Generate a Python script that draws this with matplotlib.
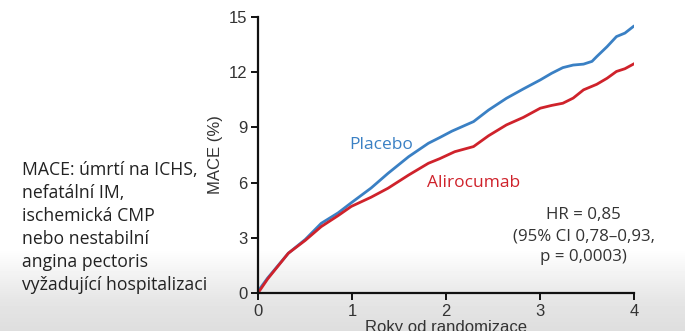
import numpy as np
import matplotlib
matplotlib.use('Agg')
from matplotlib import pyplot as plt

# data (years, MACE %)
placebo_x = [0, 0.1, 0.32, 0.5, 0.67, 0.85, 0.99, 1.2, 1.38, 1.6, 1.81, 1.93, 2.06, 2.29, 2.45,
             2.64, 2.82, 3.0, 3.12, 3.24, 3.35, 3.46, 3.55, 3.6, 3.71, 3.81, 3.9, 3.99]
placebo_y = [0.1, 0.8, 2.15, 2.9, 3.78, 4.35, 4.9, 5.7, 6.5, 7.41, 8.14, 8.45, 8.8, 9.32, 9.95,
             10.59, 11.1, 11.59, 11.95, 12.26, 12.4, 12.45, 12.6, 12.86, 13.4, 13.95, 14.14, 14.5]
aliro_x = [0, 0.1, 0.32, 0.5, 0.67, 0.85, 0.99, 1.2, 1.38, 1.6, 1.81, 1.93, 2.09, 2.29, 2.45,
           2.64, 2.82, 3.0, 3.12, 3.24, 3.35, 3.46, 3.6, 3.71, 3.81, 3.9, 3.99]
aliro_y = [0.0, 0.75, 2.15, 2.85, 3.6, 4.2, 4.7, 5.2, 5.69, 6.41, 7.05, 7.3, 7.68, 7.96, 8.55,
           9.14, 9.55, 10.05, 10.2, 10.32, 10.6, 11.05, 11.35, 11.68, 12.05, 12.2, 12.45]
x_ticks = [0, 1, 2, 3, 4]
y_ticks = [0, 3, 6, 9, 12, 15]

note = ('MACE: úmrtí na ICHS,\nnefatální IM,\nischemická CMP\nnebo nestabilní\n'
        'angina pectoris\nvyžadující hospitalizaci')
hr_text = 'HR = 0,85\n(95% CI 0,78\u20130,93,\np = 0,0003)'

blue = '#3a80c4'
red = '#cf222b'
grey = '#333333'

fig = plt.figure(figsize=(6.85, 3.31), dpi=100)

# light grey fade at the bottom of the slide
bg = fig.add_axes([0, 0, 1, 1], zorder=-10)
rows = np.interp(np.arange(331), [0, 248, 300, 331], [1.0, 1.0, 0.9, 0.87])
bg.imshow(np.repeat(rows[:, None], 10, axis=1), cmap='gray', vmin=0, vmax=1,
          aspect='auto', extent=[0, 1, 0, 1])
bg.set_axis_off()

ax = fig.add_axes([0.377, 0.1157, 0.549, 0.832])
ax.patch.set_alpha(0)
ax.plot(placebo_x, placebo_y, color=blue, lw=2.0, solid_joinstyle='round')
ax.plot(aliro_x, aliro_y, color=red, lw=2.0, solid_joinstyle='round')

ax.set_xlim(0, 4)
ax.set_ylim(0, 15)
ax.set_xticks(x_ticks)
ax.set_yticks(y_ticks)
for s in ['top', 'right']:
    ax.spines[s].set_visible(False)
for s in ['left', 'bottom']:
    ax.spines[s].set_linewidth(1.6)
    ax.spines[s].set_color('#111111')
ax.tick_params(length=5, width=1.4, pad=3, labelsize=12, labelcolor=grey, color='#111111')
for lab in ax.get_xticklabels() + ax.get_yticklabels():
    lab.set_family('Liberation Sans')
ax.set_ylabel('MACE (%)', fontsize=12, color=grey, family='Liberation Sans', labelpad=4)
ax.set_xlabel('Roky od randomizace', fontsize=12, color=grey, family='Liberation Sans', labelpad=1)

ax.text(0.965, 7.83, 'Placebo', color=blue, fontsize=12.5, family='Open Sans')
ax.text(1.79, 5.78, 'Alirocumab', color=red, fontsize=12.5, family='Open Sans')
ax.text(3.46, 4.65, hr_text, color=grey, fontsize=12.2, family='Open Sans',
        ha='center', va='top', linespacing=1.42)

fig.text(22 / 685, 1 - 161 / 331, note, color='#222222', fontsize=12.7, family='Open Sans',
         ha='left', va='top', linespacing=1.36)

fig.savefig('out.png', dpi=100)
